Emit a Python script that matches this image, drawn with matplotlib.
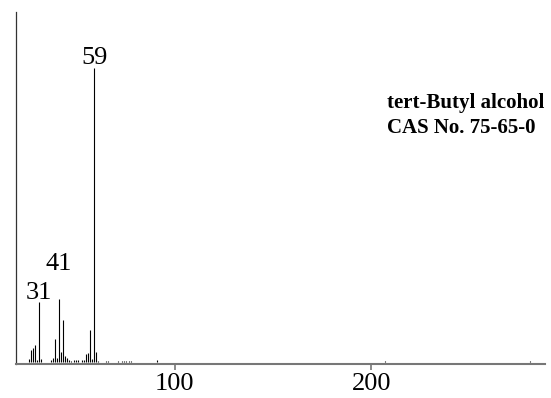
import matplotlib
matplotlib.use("Agg")
import matplotlib.pyplot as plt

plt.rcParams["font.family"] = ["Liberation Serif", "DejaVu Serif"]

# Electron-ionisation mass spectrum of tert-butyl alcohol (relative intensity, %)
mz = [26, 27, 28, 29, 30, 31, 32, 37, 38, 39, 40, 41, 42, 43, 44, 45, 46, 47,
      49, 50, 51, 53, 54, 55, 56, 57, 58, 59, 60, 61,
      65, 66, 71, 73, 74, 75, 77, 78, 91, 207, 281]
intensity = [1.0, 4.1, 4.6, 5.7, 0.6, 20.2, 0.8, 0.5, 1.3, 7.7, 1.2, 21.3, 3.4, 14.2,
             2.0, 1.2, 0.4, 0.3,
             0.6, 0.5, 0.5, 0.6, 0.5, 2.6, 2.8, 10.8, 1.0, 100.0, 3.2, 0.3,
             0.3, 0.3, 0.3, 0.3, 0.3, 0.3, 0.3, 0.3, 0.4, 0.3, 0.3]

# peaks annotated with their m/z, and the label offset above the peak (pixels)
labelled = [31, 41, 59]
label_offsets = [3, 29, 4]

compound = "tert-Butyl alcohol"
cas = "CAS No. 75-65-0"
xticks = [100, 200]

fig = plt.figure(figsize=(5.51, 3.98), dpi=100)
ax = fig.add_axes([0.0285, 0.0862, 0.9605, 0.8844])

ax.vlines(mz, 0, intensity, colors="black", linewidth=0.8)

for m, off in zip(labelled, label_offsets):
    h = intensity[mz.index(m)]
    ax.annotate(str(m), xy=(m, h), xytext=(0, off), textcoords="offset pixels",
                ha="center", va="baseline", fontsize=19)

ax.text(0.701, 0.705, compound + "\n" + cas, transform=ax.transAxes,
        fontsize=15, fontweight="bold", ha="left", va="center",
        linespacing=1.32)

ax.set_xlim(19.1, 288.4)
ax.set_ylim(-0.7, 119.3)
ax.set_xticks(xticks)
ax.set_xticklabels([str(t) for t in xticks])
ax.set_yticks([])
ax.tick_params(axis="x", direction="out", length=4, width=1.2, color="#777777",
               labelsize=19, pad=2.5)

for side in ("top", "right"):
    ax.spines[side].set_visible(False)
ax.spines["bottom"].set_color("#777777")
ax.spines["bottom"].set_linewidth(1.5)
ax.spines["left"].set_color("#333333")
ax.spines["left"].set_linewidth(0.9)

fig.savefig("out.png", dpi=100)
